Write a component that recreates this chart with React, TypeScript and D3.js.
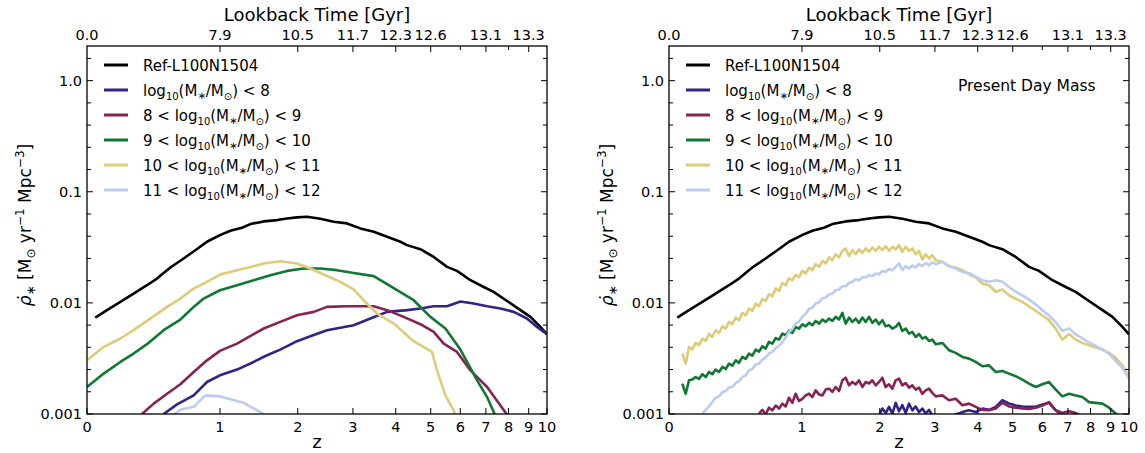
import React from "react";
import * as d3 from "d3";

// ---------------- data ----------------
const bottomTickZ = [0, 1, 2, 3, 4, 5, 6, 7, 8, 9, 10];
const topTickZ = [1, 2, 3, 4, 5, 6, 7, 8, 9];
const lookbackZ = [0, 1, 2, 3, 4, 5, 7, 9];
const lookbackLabels = ["0.0", "7.9", "10.5", "11.7", "12.3", "12.6", "13.1", "13.3"];
const yMajor = [0.001, 0.01, 0.1, 1.0];
const yMajorLabels = ["0.001", "0.01", "0.1", "1.0"];

const seriesColors = ["#000000", "#332288", "#882255", "#117733", "#DDCC77", "#BBCCEE"];
const massLo = [null, null, "8", "9", "10", "11"];
const massHi = [null, "8", "9", "10", "11", "12"];

// Ref-L100N1504 (same in both panels)
const refZ = [0.044, 0.11, 0.19, 0.275, 0.367, 0.44, 0.544, 0.655, 0.759, 0.869, 1.0, 1.111, 1.243, 1.343, 1.512, 1.693, 1.837, 1.988, 2.149, 2.375, 2.618, 2.879, 3.158, 3.459, 3.78, 4.122, 4.303, 4.685, 5.094, 5.534, 5.88, 6.38, 6.91, 7.33, 7.93, 8.58, 9.09, 9.63, 10.0];
const refV = [0.00738, 0.00859, 0.0102, 0.01213, 0.01442, 0.01655, 0.0208, 0.0251, 0.0298, 0.0355, 0.0407, 0.0446, 0.0474, 0.0512, 0.0541, 0.0556, 0.0575, 0.0588, 0.0596, 0.0571, 0.0537, 0.0519, 0.0468, 0.0437, 0.0394, 0.0355, 0.0331, 0.0304, 0.0259, 0.0211, 0.0194, 0.016, 0.0139, 0.01256, 0.0104, 0.0086, 0.00748, 0.00608, 0.0052];

// Left panel (mass at time of observation)
const m8Z = [0.491, 0.599, 0.744, 0.869, 1.0, 1.186, 1.384, 1.556, 1.739, 1.988, 2.204, 2.494, 3.016, 3.38, 3.78, 4.303, 4.685, 5.094, 5.534, 6.004, 6.51, 7.05, 7.63, 8.25, 8.91, 9.44, 10.0];
const m8V = [0.001, 0.00122, 0.00147, 0.00194, 0.00223, 0.00251, 0.00294, 0.00338, 0.0038, 0.00452, 0.00501, 0.00568, 0.0063, 0.00723, 0.0083, 0.0086, 0.0089, 0.00933, 0.00933, 0.01028, 0.00986, 0.00933, 0.0089, 0.0083, 0.00723, 0.00608, 0.00522];
const m9Z = [0.332, 0.416, 0.518, 0.627, 0.744, 0.869, 1.0, 1.186, 1.384, 1.512, 1.739, 1.988, 2.262, 2.494, 2.879, 3.459, 3.78, 4.21, 4.685, 5.094, 5.42, 5.88, 6.38, 7.05, 8.01];
const m9V = [0.001, 0.00124, 0.00152, 0.00185, 0.00239, 0.00304, 0.0037, 0.0043, 0.00523, 0.00588, 0.00675, 0.00774, 0.0083, 0.0092, 0.00933, 0.00933, 0.0086, 0.00748, 0.00643, 0.00548, 0.0043, 0.00362, 0.00247, 0.00175, 0.00094];
const m10Z = [0, 0.091, 0.19, 0.275, 0.367, 0.491, 0.627, 0.744, 0.837, 1.0, 1.186, 1.384, 1.6, 1.837, 2.094, 2.375, 2.68, 3.016, 3.459, 3.947, 4.49, 4.99, 5.477, 6.004, 6.64, 7.05, 7.4];
const m10V = [0.00175, 0.00231, 0.00294, 0.0035, 0.00425, 0.00568, 0.00708, 0.0092, 0.01094, 0.013, 0.01442, 0.016, 0.01774, 0.0194, 0.0204, 0.0204, 0.0197, 0.0186, 0.0174, 0.0136, 0.01057, 0.00748, 0.00588, 0.0038, 0.00201, 0.00142, 0.00097];
const m11Z = [0, 0.091, 0.19, 0.275, 0.367, 0.518, 0.627, 0.744, 0.869, 1.0, 1.186, 1.384, 1.512, 1.739, 1.988, 2.204, 2.435, 2.746, 3.016, 3.23, 3.535, 3.947, 4.49, 5.04, 5.2, 5.477, 5.76, 5.88];
const m11V = [0.00304, 0.00402, 0.00478, 0.00568, 0.00689, 0.0092, 0.01094, 0.01346, 0.01545, 0.018, 0.0197, 0.0214, 0.0226, 0.0237, 0.0226, 0.0204, 0.018, 0.01545, 0.0132, 0.01057, 0.00802, 0.00652, 0.00452, 0.00362, 0.00247, 0.00147, 0.00108, 0.00091];
const m12Z = [0.557, 0.627, 0.744, 0.853, 1.0, 1.263, 1.512, 1.578];
const m12V = [0.00097, 0.00109, 0.00116, 0.00147, 0.00144, 0.00126, 0.001, 0.00094];

// Right panel (present day mass): shared redshift grid
const gridZ = [
  0.072, 0.091, 0.110, 0.129, 0.149, 0.169, 0.190, 0.211, 0.232, 0.253,
  0.275, 0.298, 0.321, 0.344, 0.367, 0.391, 0.416, 0.440, 0.466, 0.491,
  0.518, 0.544, 0.571, 0.599, 0.627, 0.655, 0.684, 0.714, 0.744, 0.775,
  0.806, 0.837, 0.869, 0.902, 0.935, 0.969, 1.004, 1.039, 1.075, 1.111,
  1.148, 1.186, 1.225, 1.263, 1.303, 1.343, 1.384, 1.426, 1.469, 1.512,
  1.556, 1.601, 1.646, 1.693, 1.740, 1.788, 1.837, 1.887, 1.937, 1.989,
  2.041, 2.094, 2.148, 2.204, 2.260, 2.317, 2.375, 2.434, 2.494, 2.555,
  2.618, 2.681, 2.746, 2.811, 2.878, 2.946, 3.016,
  3.158, 3.305, 3.457, 3.615, 3.778, 3.947, 4.122, 4.303, 4.491, 4.685,
  4.886, 5.094, 5.310, 5.533, 5.764, 6.003, 6.251, 6.507, 6.772, 7.048,
  7.332, 7.627, 7.932, 8.248, 8.575, 8.913, 9.26, 9.63, 10.0,
];
const pd8Start = 59;
const pd8V = [
  0.00097,
  0.00112, 0.00102, 0.00116, 0.00101, 0.00126, 0.00106, 0.0012, 0.00102, 0.00124, 0.00108,
  0.00117, 0.00104, 0.00112, 0.00101, 0.00109, 0.00097, 0.00088,
  0.00085, 0.00088, 0.00099, 0.00104, 0.00108, 0.00104, 0.00112, 0.00109, 0.00116, 0.00133,
  0.00124, 0.00119, 0.00117, 0.00116, 0.00116, 0.00122, 0.00126, 0.00108, 0.00097, 0.00088,
];
const pd9Start = 23;
const pd9V = [
  0.00101, 0.00109, 0.00099, 0.00114, 0.00108, 0.00119, 0.00112,
  0.00124, 0.00117, 0.0014, 0.00126, 0.00152, 0.00131, 0.00137, 0.00147, 0.00152, 0.00142,
  0.00163, 0.0015, 0.00147, 0.00166, 0.00169, 0.00158, 0.00175, 0.00161, 0.00201, 0.00212,
  0.00181, 0.00194, 0.00185, 0.00201, 0.00175, 0.00194, 0.00188, 0.00201, 0.00181, 0.00194,
  0.00212, 0.00175, 0.00185, 0.00169, 0.00201, 0.00208, 0.00181, 0.0019, 0.00173, 0.00181,
  0.00166, 0.00173, 0.00152, 0.00163, 0.00169, 0.00155, 0.00144,
  0.00147, 0.00133, 0.00137, 0.0012, 0.00124, 0.00116, 0.00109, 0.00108, 0.00112, 0.00126,
  0.00117, 0.00114, 0.00112, 0.00111, 0.00114, 0.00119, 0.00128, 0.00108, 0.00102, 0.00106,
  0.00102, 0.00095,
];
const pd10Start = 0;
const pd10V = [
  0.00188, 0.00152, 0.00201, 0.00204, 0.00215, 0.00207, 0.00228, 0.00215, 0.00239, 0.00228,
  0.00251, 0.00239, 0.00265, 0.00254, 0.00284, 0.00272, 0.00304, 0.00288, 0.00326, 0.00313,
  0.0035, 0.00336, 0.0038, 0.00365, 0.00407, 0.00388, 0.00445, 0.0043, 0.00481, 0.00467,
  0.00529, 0.00511, 0.00559, 0.00536, 0.00608, 0.00587, 0.00642, 0.00616, 0.0066, 0.00629,
  0.00688, 0.00651, 0.00708, 0.00674, 0.00722, 0.00688, 0.00748, 0.00708, 0.00813, 0.00651,
  0.00738, 0.00674, 0.00722, 0.0066, 0.00738, 0.00674, 0.00748, 0.0066, 0.00708, 0.00642,
  0.00698, 0.00616, 0.00629, 0.00587, 0.00608, 0.0066, 0.00559, 0.00587, 0.00529, 0.00548,
  0.00494, 0.00525, 0.00477, 0.00494, 0.00454, 0.00467, 0.00424,
  0.00436, 0.00375, 0.00355, 0.00326, 0.00315, 0.00294, 0.00269, 0.00274, 0.00239, 0.00244,
  0.00231, 0.00219, 0.00204, 0.00188, 0.00175, 0.00185, 0.00194, 0.00166, 0.00144, 0.00152,
  0.00147, 0.00142, 0.00128, 0.00126, 0.00124, 0.00114, 0.00101, 0.00088,
];
const pd11Start = 0;
const pd11V = [
  0.0035, 0.00284, 0.00401, 0.0038, 0.00436, 0.00416, 0.00477, 0.00454, 0.00525, 0.00494,
  0.00567, 0.00536, 0.00616, 0.00587, 0.00674, 0.00642, 0.00738, 0.00698, 0.00813, 0.00774,
  0.00889, 0.00847, 0.00986, 0.00933, 0.0108, 0.0104, 0.012, 0.0115, 0.0135, 0.0128,
  0.0151, 0.0144, 0.0166, 0.016, 0.0179, 0.017, 0.0194, 0.0184, 0.0208, 0.0197,
  0.0223, 0.0211, 0.0239, 0.0226, 0.0257, 0.0242, 0.0274, 0.0257, 0.0294, 0.0309,
  0.0264, 0.0298, 0.0274, 0.0303, 0.0282, 0.0309, 0.0288, 0.0316, 0.0294, 0.032,
  0.0298, 0.0324, 0.0294, 0.032, 0.0303, 0.0331, 0.0288, 0.032, 0.0294, 0.0309,
  0.0274, 0.0294, 0.0246, 0.0274, 0.0251, 0.0269, 0.0242,
  0.0234, 0.0214, 0.0208, 0.0197, 0.0181, 0.017, 0.0149, 0.0144, 0.0126, 0.0132,
  0.0117, 0.0109, 0.0102, 0.0093, 0.0085, 0.0077, 0.007, 0.00587, 0.00467, 0.00525,
  0.00467, 0.00436, 0.00416, 0.00396, 0.0038, 0.00355, 0.00322, 0.00274, 0.00215,
];
const pd12Start = 6;
const pd12V = [
  0.00101, 0.00109, 0.00117, 0.00128,
  0.0014, 0.00144, 0.00158, 0.00161, 0.00173, 0.00175, 0.0019, 0.00198, 0.00215, 0.00223,
  0.00247, 0.00254, 0.00278, 0.00284, 0.00309, 0.00322, 0.0035, 0.00362, 0.00393, 0.00409,
  0.00445, 0.00487, 0.00548, 0.00583, 0.00651, 0.00679, 0.00748, 0.00801, 0.00883, 0.00907,
  0.00986, 0.0101, 0.011, 0.0112, 0.0119, 0.0121, 0.013, 0.0132, 0.0141, 0.0141,
  0.0151, 0.0155, 0.0163, 0.016, 0.017, 0.017, 0.0178, 0.0174, 0.0184, 0.0181,
  0.0194, 0.019, 0.0202, 0.0197, 0.0211, 0.0226, 0.0197, 0.0214, 0.0204, 0.0217,
  0.0208, 0.0223, 0.0214, 0.0229, 0.0218, 0.0232, 0.0223,
  0.0234, 0.0214, 0.0204, 0.019, 0.0186, 0.0172, 0.016, 0.0155, 0.016, 0.0155,
  0.0139, 0.0126, 0.0117, 0.0107, 0.0097, 0.0086, 0.0077, 0.0067, 0.0056, 0.0059,
  0.0052, 0.0048, 0.0044, 0.0041, 0.0038, 0.0035, 0.003, 0.0026, 0.0021,
];

// ---------------- rendering ----------------
const FONT = "'DejaVu Sans', 'Liberation Sans', sans-serif";
const TOP = 46;
const BOTTOM = 414;
const PW = 460;

type Pt = [number, number];

function zip(z: number[], v: number[]): Pt[] {
  const n = Math.min(z.length, v.length);
  const out: Pt[] = [];
  for (let i = 0; i < n; i++) out.push([z[i], v[i]]);
  return out;
}
function fromGrid(start: number, v: number[]): Pt[] {
  const out: Pt[] = [];
  for (let i = 0; i < v.length; i++) {
    const z = gridZ[start + i];
    if (z !== undefined) out.push([z, v[i]]);
  }
  return out;
}

const leftSeries: Pt[][] = [
  zip(refZ, refV),
  zip(m8Z, m8V),
  zip(m9Z, m9V),
  zip(m10Z, m10V),
  zip(m11Z, m11V),
  zip(m12Z, m12V),
];
const rightSeries: Pt[][] = [
  zip(refZ, refV),
  fromGrid(pd8Start, pd8V),
  fromGrid(pd9Start, pd9V),
  fromGrid(pd10Start, pd10V),
  fromGrid(pd11Start, pd11V),
  fromGrid(pd12Start, pd12V),
];

function LegendLabel({ i, x, y }: { i: number; x: number; y: number }) {
  if (i === 0) {
    return (
      <text x={x} y={y} fontSize={15} fontFamily={FONT}>Ref-L100N1504</text>
    );
  }
  const lo = massLo[i];
  const hi = massHi[i];
  return (
    <text x={x} y={y} fontSize={15} fontFamily={FONT}>
      {lo ? `${lo} < ` : ""}log
      <tspan dy={4} fontSize={10}>10</tspan>
      <tspan dy={-4}>(M</tspan>
      <tspan dy={3} fontSize={10}>∗</tspan>
      <tspan dy={-3}>/M</tspan>
      <tspan dy={4} fontSize={10}>⊙</tspan>
      <tspan dy={-4}>{`) < ${hi}`}</tspan>
    </text>
  );
}

function Panel({ x0, series, id, note }: { x0: number; series: Pt[][]; id: string; note?: string }) {
  const x = d3.scaleLog().domain([1, 11]).range([x0, x0 + PW]);
  const y = d3.scaleLog().domain([0.001, 2.05]).range([BOTTOM, TOP]);
  const line = d3
    .line<Pt>()
    .x((d) => x(1 + d[0]))
    .y((d) => y(d[1]));
  const minor = d3
    .range(0, 17)
    .filter((k) => k % 5 !== 0)
    .map((k) => Math.pow(10, -3 + 0.2 * k));
  const cx = x0 + PW / 2;
  const cy = (TOP + BOTTOM) / 2;
  const legendRowY = (i: number) => 65 + 25 * i;

  return (
    <g>
      <defs>
        <clipPath id={id}>
          <rect x={x0} y={TOP} width={PW} height={BOTTOM - TOP} />
        </clipPath>
      </defs>
      <g clipPath={`url(#${id})`}>
        {series.map((s, i) => (
          <path
            key={i}
            d={line(s) || ""}
            fill="none"
            stroke={seriesColors[i]}
            strokeWidth={2.6}
            strokeLinejoin="round"
          />
        ))}
      </g>
      {/* frame */}
      <rect x={x0} y={TOP} width={PW} height={BOTTOM - TOP} fill="none" stroke="#000" strokeWidth={1.3} />
      {/* bottom ticks */}
      {bottomTickZ.map((z) => (
        <g key={`b${z}`}>
          <line x1={x(1 + z)} x2={x(1 + z)} y1={BOTTOM} y2={BOTTOM - 6} stroke="#000" strokeWidth={1} />
          <text x={x(1 + z)} y={432} textAnchor="middle" fontSize={14.5} fontFamily={FONT}>{z}</text>
        </g>
      ))}
      {/* top ticks */}
      {topTickZ.map((z) => (
        <line key={`t${z}`} x1={x(1 + z)} x2={x(1 + z)} y1={TOP} y2={TOP + (z === 6 || z === 8 ? 4 : 6)} stroke="#000" strokeWidth={1} />
      ))}
      {lookbackZ.map((z, i) => (
        <text key={`tl${z}`} x={x(1 + z)} y={40} textAnchor="middle" fontSize={14.5} fontFamily={FONT}>{lookbackLabels[i]}</text>
      ))}
      {/* y ticks */}
      {yMajor.map((v, i) => (
        <g key={`y${v}`}>
          <line x1={x0} x2={x0 + 6} y1={y(v)} y2={y(v)} stroke="#000" strokeWidth={1} />
          <line x1={x0 + PW} x2={x0 + PW - 6} y1={y(v)} y2={y(v)} stroke="#000" strokeWidth={1} />
          <text x={x0 - 5} y={y(v) + 5} textAnchor="end" fontSize={14.5} fontFamily={FONT}>{yMajorLabels[i]}</text>
        </g>
      ))}
      {minor.map((v) => (
        <g key={`ym${v}`}>
          <line x1={x0} x2={x0 + 4} y1={y(v)} y2={y(v)} stroke="#000" strokeWidth={1} />
          <line x1={x0 + PW} x2={x0 + PW - 4} y1={y(v)} y2={y(v)} stroke="#000" strokeWidth={1} />
        </g>
      ))}
      {/* axis titles */}
      <text x={cx} y={21} textAnchor="middle" fontSize={18} fontFamily={FONT}>Lookback Time [Gyr]</text>
      <text x={cx} y={448} textAnchor="middle" fontSize={18} fontFamily={FONT}>z</text>
      <text transform={`translate(${x0 - 56},${cy - 5}) rotate(-90)`} textAnchor="middle" fontSize={17} fontFamily={FONT}>
        <tspan fontStyle="italic">ρ̇</tspan>
        <tspan dy={4} fontSize={12}>∗</tspan>
        <tspan dy={-4}> [M</tspan>
        <tspan dy={4} fontSize={12}>⊙</tspan>
        <tspan dy={-4}> yr</tspan>
        <tspan dy={-7} fontSize={12}>−1</tspan>
        <tspan dy={7}> Mpc</tspan>
        <tspan dy={-7} fontSize={12}>−3</tspan>
        <tspan dy={7}>]</tspan>
      </text>
      {/* legend */}
      {seriesColors.map((c, i) => (
        <g key={`lg${i}`}>
          <line x1={x0 + 17} x2={x0 + 41} y1={legendRowY(i)} y2={legendRowY(i)} stroke={c} strokeWidth={3} />
          <LegendLabel i={i} x={x0 + 56} y={legendRowY(i) + 5.5} />
        </g>
      ))}
      {note ? (
        <text x={958} y={91} fontSize={15.5} fontFamily={FONT}>{note}</text>
      ) : null}
    </g>
  );
}

export default function App() {
  return (
    <svg
      width={1145}
      height={453}
      viewBox="0 0 1145 453"
      style={{ position: "absolute", left: 0, top: 0, background: "#fff" }}
    >
      <rect x={0} y={0} width={1145} height={453} fill="#fff" />
      <Panel x0={87} series={leftSeries} id="clipL" />
      <Panel x0={669} series={rightSeries} id="clipR" note="Present Day Mass" />
    </svg>
  );
}
